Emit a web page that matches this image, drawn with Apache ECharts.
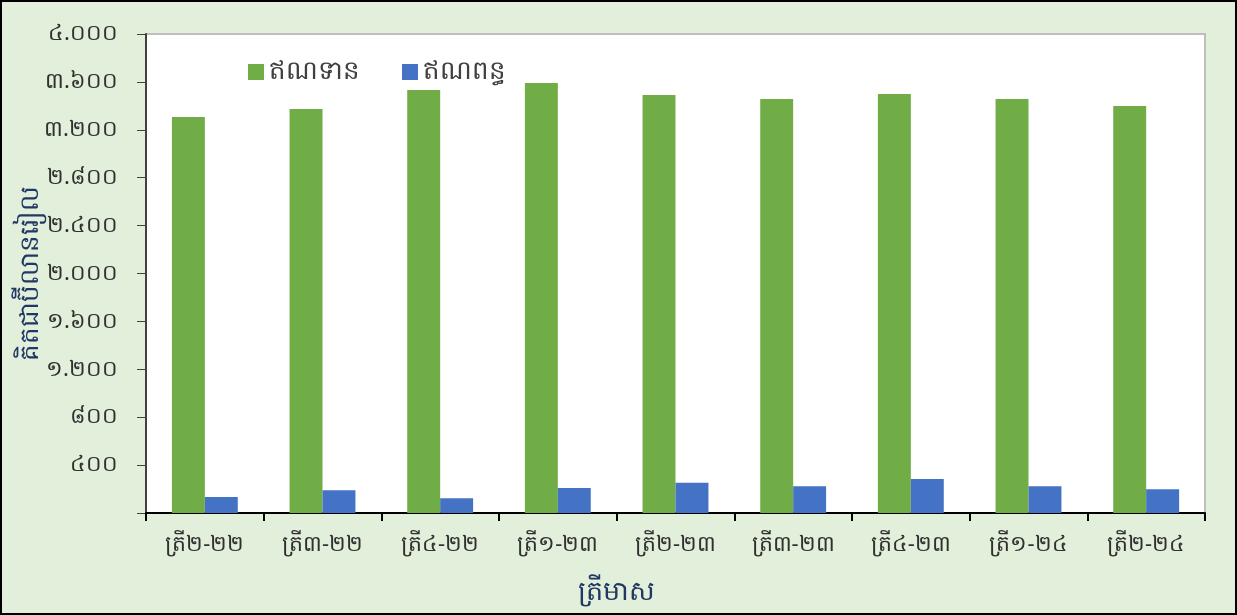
<!DOCTYPE html>
<html>
<head>
<meta charset="utf-8">
<script src="https://cdn.jsdelivr.net/npm/echarts@6/dist/echarts.min.js"></script>
<style>
html,body{margin:0;padding:0;background:#fff;}
#chart{width:1237px;height:615px;box-sizing:border-box;border:2px solid #000;background:#E2EFDA;}
</style>
</head>
<body>
<div id="chart"></div>
<script>
var categories = ['ត្រី២-២២','ត្រី៣-២២','ត្រី៤-២២','ត្រី១-២៣','ត្រី២-២៣','ត្រី៣-២៣','ត្រី៤-២៣','ត្រី១-២៤','ត្រី២-២៤'];
var creditValues = [3307, 3373, 3532, 3591, 3490, 3457, 3499, 3457, 3399];
var debitValues = [134, 190, 123, 209, 253, 223, 284, 223, 198];
var seriesNames = ['ឥណទាន', 'ឥណពន្ធ'];
var yTitle = 'គិតជាប៊ីលានរៀល';
var xTitle = 'ត្រីមាស';
var khDigits = ['០','១','២','៣','៤','៥','៦','៧','៨','៩'];

function toKhmer(v){
  if (v === 0) return '';
  var s = String(v).replace(/\B(?=(\d{3})+(?!\d))/g, '.');
  return s.replace(/\d/g, function(d){ return khDigits[+d]; });
}

var FONT = '"Noto Sans", "DejaVu Sans", sans-serif';
var chart = echarts.init(document.getElementById('chart'));
chart.setOption({
  animation: false,
  textStyle: {fontFamily: FONT},
  legend: {
    data: seriesNames,
    left: 241, top: 52,
    itemWidth: 16, itemHeight: 16, itemGap: 42, itemTextGap: 7,
    icon: 'rect',
    textStyle: {fontSize: 26, color: '#404040', fontFamily: FONT}
  },
  grid: {
    left: 144, right: 30, top: 32, bottom: 100,
    outerBoundsMode: 'none',
    containLabel: false,
    show: true, backgroundColor: '#FFFFFF', borderColor: '#BFBFBF', borderWidth: 2
  },
  xAxis: {
    type: 'category',
    data: categories,
    name: xTitle,
    nameLocation: 'middle',
    nameGap: 66,
    nameMoveOverlap: false,
    nameTextStyle: {fontSize: 27, color: '#203864', fontFamily: FONT, padding: [0, 118, 0, 0]},
    axisLine: {lineStyle: {color: '#000', width: 2}},
    axisTick: {show: true, length: 8, lineStyle: {color: '#000', width: 2}},
    axisLabel: {fontSize: 22, color: '#303030', margin: 21, fontFamily: FONT}
  },
  yAxis: {
    type: 'value',
    min: 0, max: 4000, interval: 400,
    name: yTitle,
    nameLocation: 'middle',
    nameGap: 102,
    nameMoveOverlap: false,
    nameTextStyle: {fontSize: 26, color: '#203864', fontFamily: FONT},
    axisLine: {show: true, lineStyle: {color: '#404040', width: 2}},
    axisTick: {show: true, length: 9, lineStyle: {color: '#404040', width: 1}},
    splitLine: {show: false},
    axisLabel: {fontSize: 22, color: '#303030', margin: 28, formatter: toKhmer, fontFamily: FONT}
  },
  series: [
    {name: seriesNames[0], type: 'bar', data: creditValues, barGap: '0%', barCategoryGap: '44%',
     itemStyle: {color: '#70AD47'}},
    {name: seriesNames[1], type: 'bar', data: debitValues,
     itemStyle: {color: '#4472C4'}}
  ]
});
</script>
</body>
</html>
